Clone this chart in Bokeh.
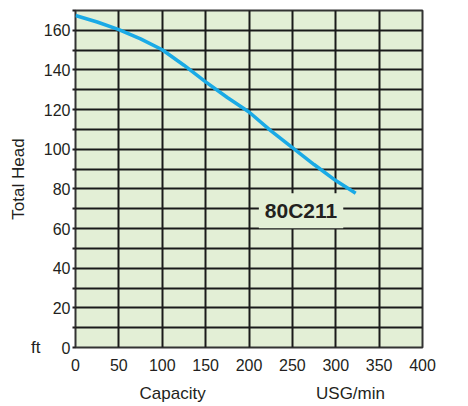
from bokeh.plotting import figure
from bokeh.models import Range1d, FixedTicker, Label, ColumnDataSource, LinearAxis
from bokeh.embed import file_html
from bokeh.resources import INLINE

# Data
capacity = [0, 25, 50, 75, 100, 125, 150, 175, 200, 225, 250, 275, 300, 323]
head = [167.5, 164.2, 160.4, 155.7, 150.2, 142.4, 134.0, 126.1, 118.8, 109.4, 100.8, 92.3, 84.2, 77.8]
x_ticks = [0, 50, 100, 150, 200, 250, 300, 350, 400]
y_ticks = [0, 20, 40, 60, 80, 100, 120, 140, 160]
y_minor = [10, 30, 50, 70, 90, 110, 130, 150, 170]
model_name = "80C211"
x_title_pos = [112, 317]
x_titles = ["Capacity", "USG/min"]
y_title = "Total Head"
y_unit = "ft"

FONT = "Liberation Sans"
TXT = "#231f20"

p = figure(width=468, height=406, output_backend="svg", toolbar_location=None,
           x_range=Range1d(0, 400), y_range=Range1d(0, 170))
p.min_border_left = 75
p.min_border_right = 46
p.min_border_top = 10
p.min_border_bottom = 59
p.background_fill_color = "#e3efd6"
p.border_fill_color = "white"
p.outline_line_color = "#333333"
p.outline_line_width = 2

# Axes
p.xaxis.ticker = FixedTicker(ticks=x_ticks)
p.yaxis.ticker = FixedTicker(ticks=y_ticks, minor_ticks=y_minor)
for ax in (p.xaxis[0], p.yaxis[0]):
    ax.axis_line_color = None
    ax.major_label_text_font = FONT
    ax.major_label_text_font_size = "16px"
    ax.major_label_text_color = TXT
p.xaxis.major_tick_line_color = None
p.xaxis.minor_tick_line_color = None
p.xaxis.major_label_standoff = 5
p.yaxis.major_tick_line_color = "#231f20"
p.yaxis.major_tick_line_width = 2
p.yaxis.major_tick_out = 3
p.yaxis.major_tick_in = 0
p.yaxis.minor_tick_line_color = "#231f20"
p.yaxis.minor_tick_line_width = 2
p.yaxis.minor_tick_out = 3
p.yaxis.minor_tick_in = 0
p.yaxis.major_label_standoff = 2

# Secondary x axis carrying the two titles
xt = LinearAxis(ticker=FixedTicker(ticks=x_title_pos),
                major_label_overrides={x_title_pos[0]: x_titles[0], x_title_pos[1]: x_titles[1]},
                axis_line_color=None, major_tick_line_color=None, minor_tick_line_color=None,
                major_tick_out=0, major_tick_in=0, minor_tick_out=0, minor_tick_in=0,
                major_label_text_font=FONT, major_label_text_font_size="17px",
                major_label_text_color=TXT, major_label_standoff=10)
p.add_layout(xt, "below")

# Secondary y axis carrying the unit and title
yt = LinearAxis(ticker=FixedTicker(ticks=[0]), major_label_overrides={0: y_unit},
                axis_line_color=None, major_tick_line_color=None, minor_tick_line_color=None,
                major_tick_out=0, major_tick_in=0, minor_tick_out=0, minor_tick_in=0,
                major_label_text_font=FONT, major_label_text_font_size="17px",
                major_label_text_color=TXT, major_label_standoff=0,
                major_label_text_baseline="top",
                axis_label=y_title, axis_label_text_font=FONT, axis_label_text_font_size="17px",
                axis_label_text_font_style="normal", axis_label_text_color=TXT,
                axis_label_standoff=0)
p.add_layout(yt, "left")

# Grid
p.xgrid.ticker = FixedTicker(ticks=x_ticks)
p.ygrid.ticker = FixedTicker(ticks=y_ticks, minor_ticks=y_minor)
p.xgrid.grid_line_color = "#1a1a1a"
p.xgrid.grid_line_width = 2
p.ygrid.grid_line_color = "#1a1a1a"
p.ygrid.grid_line_width = 2
p.ygrid.minor_grid_line_color = "#1a1a1a"
p.ygrid.minor_grid_line_width = 2

# Curve
src = ColumnDataSource(dict(x=capacity, y=head))
p.line("x", "y", source=src, line_color="#1aaae6", line_width=3.5, line_join="round")

# Model label with background box
p.add_layout(Label(x=260, y=69, text=model_name, text_font=FONT,
                   text_font_size="21px", text_font_style="bold",
                   text_color=TXT, text_align="center", text_baseline="middle",
                   background_fill_color="#e3efd6", padding=6))

open("out.html", "w").write(file_html(p, INLINE))
